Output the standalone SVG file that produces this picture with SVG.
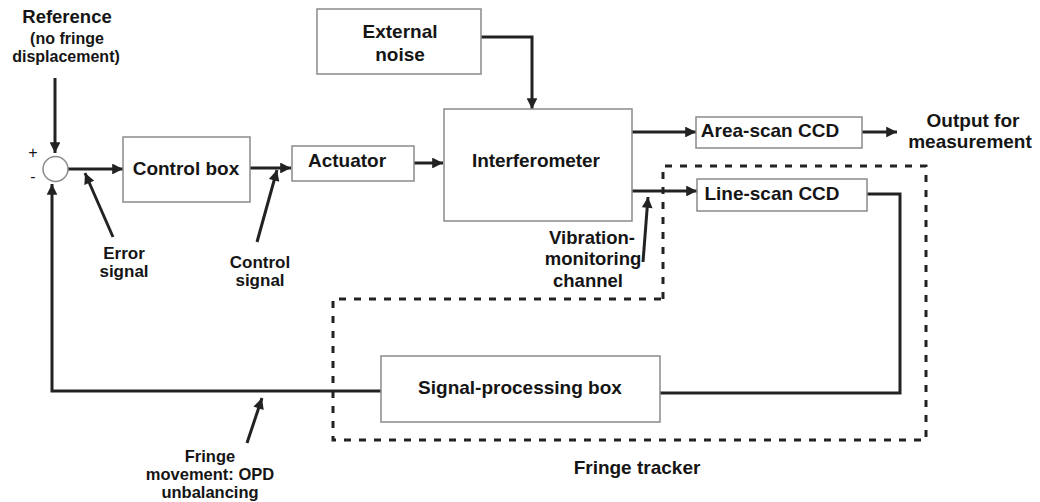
<svg xmlns="http://www.w3.org/2000/svg" width="1040" height="502" viewBox="0 0 1040 502">
  <style>
    .box { fill: #ffffff; stroke: #8a8a8a; stroke-width: 1.5; }
    .wire { fill: none; stroke: #222222; stroke-width: 3; stroke-linejoin: miter; }
    .ptr { fill: none; stroke: #222222; stroke-width: 3; }
    .frame { fill: none; stroke: #222222; stroke-width: 3; stroke-dasharray: 7 8; }
    text { font-family: "Liberation Sans", Arial, sans-serif; font-weight: bold; fill: #151515; text-anchor: middle; }
    .lbl { font-size: 19px; }
    .sm { font-size: 16px; }
    .sig { font-size: 17px; }
  </style>
  <defs>
    <marker id="arrow" viewBox="0 0 10 10" refX="10" refY="5" markerWidth="4" markerHeight="3.6" markerUnits="strokeWidth" orient="auto">
      <path d="M0,0 L10,5 L0,10 z" fill="#222222"/>
    </marker>
  </defs>

  <!-- fringe tracker boundary -->
  <g id="fringe-tracker">
    <path class="frame" d="M663,299 L663,166 L926,166 L926,440 L333,440 L333,299 Z"/>
    <text class="lbl" x="637" y="474">Fringe tracker</text>
  </g>

  <!-- connectors -->
  <g id="connectors">
    <line class="wire" x1="55" y1="78" x2="55" y2="153" marker-end="url(#arrow)"/>
    <line class="wire" x1="68" y1="169" x2="123" y2="169" marker-end="url(#arrow)"/>
    <line class="wire" x1="250" y1="168" x2="291" y2="168" marker-end="url(#arrow)"/>
    <line class="wire" x1="414" y1="163" x2="443" y2="163" marker-end="url(#arrow)"/>
    <polyline class="wire" points="481,37 532,37 532,109" marker-end="url(#arrow)"/>
    <line class="wire" x1="632" y1="132" x2="696" y2="132" marker-end="url(#arrow)"/>
    <line class="wire" x1="862" y1="132" x2="897" y2="132" marker-end="url(#arrow)"/>
    <line class="wire" x1="632" y1="191" x2="697" y2="191" marker-end="url(#arrow)"/>
    <polyline class="wire" points="867,194 900,194 900,393 660,393"/>
    <polyline class="wire" points="381,391 52,391 52,184" marker-end="url(#arrow)"/>
    <!-- label pointers -->
    <line class="ptr" x1="113" y1="237" x2="85" y2="173" marker-end="url(#arrow)"/>
    <line class="ptr" x1="257" y1="242" x2="277" y2="170" marker-end="url(#arrow)"/>
    <line class="ptr" x1="643" y1="262" x2="648" y2="197" marker-end="url(#arrow)"/>
    <line class="ptr" x1="247" y1="443" x2="262" y2="398" marker-end="url(#arrow)"/>
  </g>

  <!-- reference input -->
  <g id="reference">
    <text style="font-size:18.5px" x="67" y="23">Reference</text>
    <text class="sm" x="67" y="44">(no fringe</text>
    <text class="sm" x="66" y="62">displacement)</text>
  </g>

  <!-- summing junction -->
  <g id="summer">
    <circle class="box" cx="55.5" cy="169" r="12.5"/>
    <text class="sm" x="33" y="158" style="font-weight:normal">+</text>
    <text class="sm" x="33" y="182" style="font-weight:normal">-</text>
  </g>

  <g id="control-box">
    <rect class="box" x="123" y="137" width="127" height="65"/>
    <text class="lbl" x="186" y="175">Control box</text>
  </g>

  <g id="actuator">
    <rect class="box" x="292" y="146" width="122" height="35"/>
    <text class="lbl" x="347" y="167">Actuator</text>
  </g>

  <g id="external-noise">
    <rect class="box" x="317" y="9" width="164" height="65"/>
    <text class="lbl" x="400" y="38">External</text>
    <text class="lbl" x="400" y="61">noise</text>
  </g>

  <g id="interferometer">
    <rect class="box" x="444" y="109" width="188" height="112"/>
    <text class="lbl" x="536" y="167" textLength="128" lengthAdjust="spacing">Interferometer</text>
  </g>

  <g id="area-scan-ccd">
    <rect class="box" x="696" y="117" width="166" height="31"/>
    <text class="lbl" x="770" y="137">Area-scan CCD</text>
  </g>

  <g id="output">
    <text class="lbl" x="973" y="127">Output for</text>
    <text class="lbl" x="970" y="148">measurement</text>
  </g>

  <g id="line-scan-ccd">
    <rect class="box" x="697" y="179" width="170" height="32"/>
    <text class="lbl" x="772" y="200">Line-scan CCD</text>
  </g>

  <g id="signal-processing-box">
    <rect class="box" x="381" y="356" width="279" height="66"/>
    <text class="lbl" x="520" y="394">Signal-processing box</text>
  </g>

  <!-- signal labels -->
  <g id="error-signal">
    <text class="sig" x="124" y="259">Error</text>
    <text class="sig" x="124" y="277">signal</text>
  </g>
  <g id="control-signal">
    <text class="sig" x="260" y="268">Control</text>
    <text class="sig" x="260" y="286">signal</text>
  </g>
  <g id="vibration-channel">
    <text style="font-size:18.5px" x="592" y="244">Vibration-</text>
    <text style="font-size:18.5px" x="593" y="265">monitoring</text>
    <text style="font-size:18.5px" x="588" y="287">channel</text>
  </g>
  <g id="fringe-movement">
    <text style="font-size:16.5px" x="210" y="462">Fringe</text>
    <text style="font-size:16.5px" x="210" y="480">movement: OPD</text>
    <text style="font-size:16.5px" x="210" y="498">unbalancing</text>
  </g>
</svg>
